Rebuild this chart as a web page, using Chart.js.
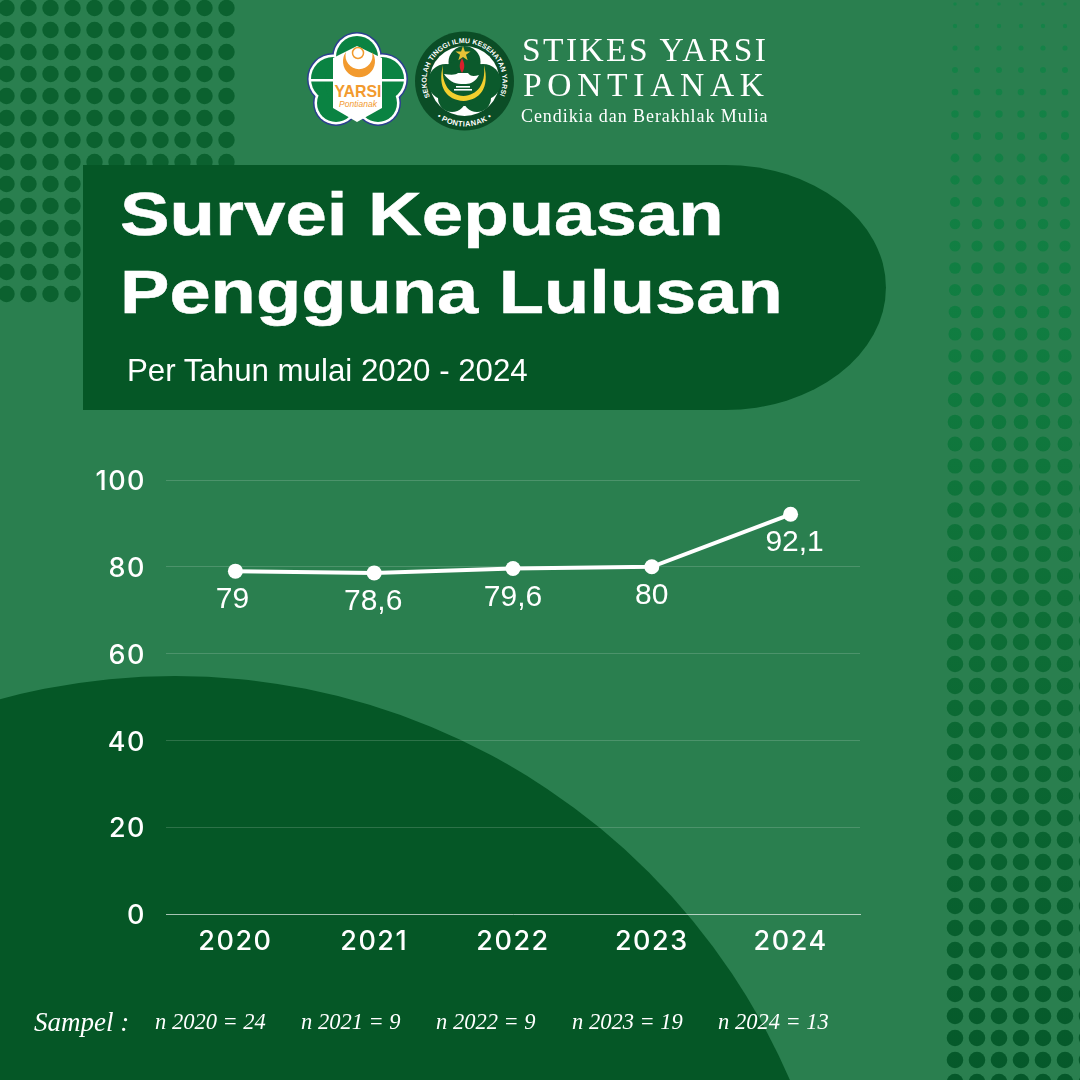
<!DOCTYPE html>
<html lang="id">
<head>
<meta charset="utf-8">
<title>Survei Kepuasan Pengguna Lulusan</title>
<script src="https://cdn.jsdelivr.net/npm/chart.js@4"></script>
<style>
  html, body { margin: 0; padding: 0; background: #2a7f4f; }
  #page { position: relative; width: 1080px; height: 1080px; overflow: hidden; background: #2a7f4f; }
  #page > svg, #page > canvas { position: absolute; left: 0; top: 0; }
  .txt { position: absolute; color: #fff; white-space: nowrap; line-height: 1; transform-origin: 0 0; }
  .title { font: bold 62px "Liberation Sans", sans-serif; -webkit-text-stroke: 0.5px #fff; }
  .sub { font: 31.25px "Liberation Sans", sans-serif; }
  .brand { font-family: "Liberation Serif", serif; }
  .sample { font: italic 22.5px "Liberation Serif", serif; }
</style>
</head>
<body>
<div id="page">
  <svg id="bg" width="1080" height="1080" viewBox="0 0 1080 1080">
    <defs>
      <linearGradient id="dotFade" gradientUnits="userSpaceOnUse" x1="0" y1="0" x2="0" y2="1080">
        <stop offset="0" stop-color="#158348"/>
        <stop offset="0.3" stop-color="#107d41"/>
        <stop offset="0.55" stop-color="#0e6f37"/>
        <stop offset="1" stop-color="#05582a"/>
      </linearGradient>
    </defs>
    <g id="dotsLeft" fill="#0b612f"></g>
    <g id="dotsRight" fill="url(#dotFade)"></g>
    <circle cx="175" cy="1346" r="670" fill="#055726"/>
    <path d="M83 165 H725 A161 122.5 0 0 1 725 410 H83 Z" fill="#055726"/>

    <!-- left logo -->
    <g>
      <g fill="#2b3f8f">
        <circle cx="357" cy="57" r="25"/><circle cx="333" cy="79" r="26"/><circle cx="382" cy="79" r="26"/>
        <circle cx="336" cy="103" r="23"/><circle cx="378" cy="103" r="23"/><circle cx="357" cy="82" r="34"/>
      </g>
      <g fill="#fff">
        <circle cx="357" cy="57" r="23.5"/><circle cx="333" cy="79" r="24.5"/><circle cx="382" cy="79" r="24.5"/>
        <circle cx="336" cy="103" r="21.5"/><circle cx="378" cy="103" r="21.5"/><circle cx="357" cy="82" r="33"/>
      </g>
      <g fill="#0a8342">
        <circle cx="357" cy="57" r="21"/><circle cx="333" cy="79" r="22"/><circle cx="382" cy="79" r="22"/>
        <circle cx="336" cy="103" r="19"/><circle cx="378" cy="103" r="19"/><circle cx="357" cy="82" r="32"/>
      </g>
      <rect x="309" y="79" width="97" height="2.5" fill="#fff"/>
      <path d="M357 46 L382 58 V108 L357 122 L333 108 V58 Z" fill="#fff"/>
      <path d="M346 52 A16 16 0 1 0 372 52 A13.5 13.5 0 1 1 346 52 Z" fill="#f29a2e"/>
      <circle cx="358" cy="53" r="5.5" fill="none" stroke="#f29a2e" stroke-width="1.5"/>
      <text x="358" y="97" text-anchor="middle" font-family="Liberation Sans" font-size="17" font-weight="bold" fill="#f29a2e" textLength="47" lengthAdjust="spacingAndGlyphs">YARSI</text>
      <text x="358" y="107" text-anchor="middle" font-family="Liberation Sans" font-style="italic" font-size="8.5" fill="#f29a2e">Pontianak</text>
    </g>

    <!-- right logo -->
    <g>
      <circle cx="464.5" cy="81" r="49.5" fill="#0b4d26"/>
      <circle cx="464.5" cy="81" r="35" fill="#fff"/>
      <path id="ringTop" d="M430 97 A38 38 0 1 1 499 97" fill="none"/>
      <path id="ringBottom" d="M432 113 A46 46 0 0 0 497 113" fill="none"/>
      <text font-family="Liberation Sans" font-size="7" font-weight="bold" fill="#fff"><textPath href="#ringTop" textLength="150" lengthAdjust="spacing">SEKOLAH TINGGI ILMU KESEHATAN YARSI</textPath></text>
      <text font-family="Liberation Sans" font-size="7.5" font-weight="bold" fill="#fff" letter-spacing="0.4"><textPath href="#ringBottom" startOffset="50%" text-anchor="middle">• PONTIANAK •</textPath></text>
      <g fill="#0b5a2c">
        <circle cx="464.5" cy="62" r="16"/><circle cx="446" cy="82" r="18"/><circle cx="483" cy="82" r="18"/>
        <circle cx="452" cy="98" r="14"/><circle cx="477" cy="98" r="14"/><circle cx="464.5" cy="82" r="24"/>
      </g>
      <path d="M463 46 l1.9 5.4 h5.6 l-4.5 3.4 l1.7 5.5 l-4.7 -3.3 l-4.7 3.3 l1.7 -5.5 l-4.5 -3.4 h5.6 Z" fill="#e7c236"/>
      <path d="M462 58 C465 64 465 68 462 73 C459 68 459 64 462 58 Z" fill="#d8202c"/>
      <path d="M443 65 C437 88 447 100 463.5 101 C480 100 490 88 484 65 C486 85 477 95 463.5 96 C450 95 441 85 443 65 Z" fill="#f2cf2e"/>
      <path d="M444 74 C451 75 456 75 458 73 H468 C470 76 473 77 479 75 C476 81 471 84 466 84 H461 C454 84 448 80 444 74 Z" fill="#fff"/>
      <rect x="456" y="86" width="14" height="1.6" fill="#fff"/><rect x="454" y="89" width="18" height="1.6" fill="#fff"/>
    </g>
  </svg>

  <canvas id="surveyChart" width="1080" height="1080"></canvas>

  <div class="txt brand" style="left:522px;top:33px;font-size:33.5px;letter-spacing:2.4px;">STIKES YARSI</div>
  <div class="txt brand" style="left:523px;top:68px;font-size:33.5px;letter-spacing:5.7px;">PONTIANAK</div>
  <div class="txt brand" style="left:521px;top:107px;font-size:18px;letter-spacing:0.93px;">Cendikia dan Berakhlak Mulia</div>

  <div class="txt title" style="left:120px;top:178px;transform:scaleX(1.2);">Survei Kepuasan</div>
  <div class="txt title" style="left:120px;top:256px;transform:scaleX(1.195);">Pengguna Lulusan</div>
  <div class="txt sub" style="left:127px;top:353px;">Per Tahun mulai 2020 - 2024</div>

  <div class="txt brand" style="left:34px;top:1009px;font-size:27px;font-style:italic;">Sampel :</div>
  <div id="samples"></div>
</div>

<script>
const years = ['2020', '2021', '2022', '2023', '2024'];
const satisfaction = [79, 78.6, 79.6, 80, 92.1];
const sampleSizes = [24, 9, 9, 19, 13];
const yTicks = [0, 20, 40, 60, 80, 100];

// Halftone dots behind everything
function addDot(group, x, y, r) {
  const c = document.createElementNS('http://www.w3.org/2000/svg', 'circle');
  c.setAttribute('cx', x);
  c.setAttribute('cy', y);
  c.setAttribute('r', r);
  group.appendChild(c);
}

const dotsLeft = document.getElementById('dotsLeft');
for (let row = 0; row < 14; row++) {
  for (let col = 0; col < 11; col++) {
    addDot(dotsLeft, 6.5 + col * 22, 8 + row * 22, 8.2);
  }
}

const dotsRight = document.getElementById('dotsRight');
for (let row = 0; row < 50; row++) {
  for (let col = 0; col < 7; col++) {
    // dots grow down the page until about row 30, then stay the same size
    const step = Math.min(row, 30);
    const r = 1.8 + step * 0.42 - step * step * 0.0068;
    addDot(dotsRight, 955 + col * 22, 4 + row * 22, r);
  }
}

// Sample sizes line under the chart
const sampleX = [155, 301, 436, 572, 718];
const samplesEl = document.getElementById('samples');
years.forEach((year, i) => {
  const div = document.createElement('div');
  div.className = 'txt sample';
  div.style.left = sampleX[i] + 'px';
  div.style.top = '1009px';
  div.textContent = `n ${year} = ${sampleSizes[i]}`;
  samplesEl.appendChild(div);
});

// Value labels sit under each point, with a comma as decimal mark
const labelNudge = [-3, -1, 0, 0, 4];
const valueLabels = {
  id: 'valueLabels',
  afterDatasetsDraw(chart) {
    const ctx = chart.ctx;
    const points = chart.getDatasetMeta(0).data;
    ctx.save();
    ctx.letterSpacing = '0px';
    ctx.font = '30px "Liberation Sans"';
    ctx.fillStyle = '#fff';
    ctx.textAlign = 'center';
    ctx.textBaseline = 'alphabetic';
    points.forEach((pt, i) => {
      ctx.fillText(String(satisfaction[i]).replace('.', ','), pt.x + labelNudge[i], pt.y + 37);
    });
    ctx.restore();
  }
};

// Tick labels in the reference are wider than the regular face
const tickSpacing = {
  id: 'tickSpacing',
  beforeDraw(chart) {
    chart.ctx.letterSpacing = '1.5px';
  }
};

const tickFont = { family: 'Inter', size: 27, weight: '500' };

const chart = new Chart(document.getElementById('surveyChart'), {
  type: 'line',
  data: {
    labels: years,
    datasets: [{
      data: satisfaction,
      borderColor: '#fff',
      backgroundColor: '#fff',
      borderWidth: 4,
      pointRadius: 7.5,
      pointBackgroundColor: '#fff',
      pointBorderWidth: 0,
      tension: 0,
      clip: false
    }]
  },
  options: {
    responsive: false,
    animation: false,
    devicePixelRatio: 1,
    layout: { padding: { left: 0, top: 480, right: 220, bottom: 126 } },
    plugins: { legend: { display: false }, title: { display: false }, tooltip: { enabled: false } },
    scales: {
      x: {
        offset: true,
        afterFit(scale) { scale.height = 40; },
        grid: { display: false, drawTicks: false },
        border: { color: 'rgba(255,255,255,0.65)', width: 1 },
        ticks: { color: '#fff', font: tickFont, padding: 12, maxRotation: 0 }
      },
      y: {
        min: 0,
        max: 100,
        afterFit(scale) { scale.width = 166; },
        afterBuildTicks(scale) { scale.ticks = yTicks.map(value => ({ value })); },
        grid: {
          drawTicks: false,
          lineWidth: 1,
          color: ctx => ctx.tick.value === 0 ? 'rgba(255,255,255,0)' : 'rgba(255,255,255,0.16)'
        },
        border: { display: false },
        ticks: { color: '#fff', font: tickFont, padding: 20, labelOffset: 2 }
      }
    }
  },
  plugins: [tickSpacing, valueLabels]
});
</script>
</body>
</html>
